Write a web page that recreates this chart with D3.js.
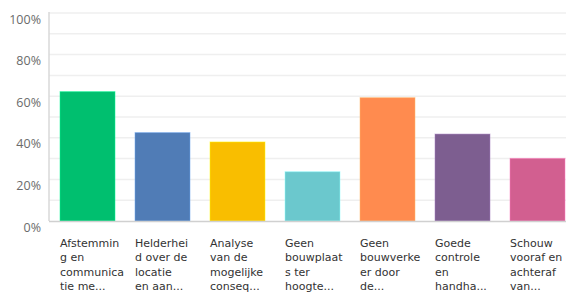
<!DOCTYPE html>
<html>
<head>
<meta charset="utf-8">
<script src="https://cdn.jsdelivr.net/npm/d3@7"></script>
<style>
  body { margin: 0; background: #fff; }
  svg { display: block; }
</style>
</head>
<body>
<svg></svg>
<script>
let categories = ["A", "B", "C", "D", "E", "F", "G"];
let labels = [
  ["Afstemmin", "g en", "communica", "tie me..."],
  ["Helderhei", "d over de", "locatie", "en aan..."],
  ["Analyse", "van de", "mogelijke", "conseq..."],
  ["Geen", "bouwplaat", "s ter", "hoogte..."],
  ["Geen", "bouwverke", "er door", "de..."],
  ["Goede", "controle", "en", "handha..."],
  ["Schouw", "vooraf en", "achteraf", "van..."]
];
let values = [62.2, 42.5, 38.0, 23.7, 59.3, 41.8, 30.1];
let colors = ["#00BF6F", "#507CB6", "#F9BE00", "#6BC8CD", "#FF8B4F", "#7D5E90", "#D25F90"];
let yTicks = [0, 20, 40, 60, 80, 100];

let w = 566;
let h = 293;
let padTop = 13;
let padBottom = 221;
let padLeft = 49;

let svg = d3.select('svg').attr('width', w).attr('height', h);

let xSc = d3.scaleBand()
            .domain(categories)
            .range([padLeft + 1, padLeft + 1 + 7 * 75])
            .paddingInner(20 / 75)
            .paddingOuter(10 / 75)
            .align(0.5);

let ySc = d3.scaleLinear()
            .domain([0, 100])
            .range([padBottom, padTop]);

// grid lines every 10%
svg.append('g')
   .selectAll('line')
   .data(d3.range(10, 101, 10))
   .enter()
   .append('line')
   .attr('x1', padLeft)
   .attr('x2', w)
   .attr('y1', d => ySc(d))
   .attr('y2', d => ySc(d))
   .attr('stroke', '#efefef')
   .attr('stroke-width', 1.5);

// y axis line
svg.append('line')
   .attr('x1', padLeft).attr('x2', padLeft)
   .attr('y1', padTop - 1).attr('y2', padBottom)
   .attr('stroke', '#d9d9d9')
   .attr('stroke-width', 1.5);

// bars
svg.selectAll('rect.bar')
   .data(values)
   .enter()
   .append('rect')
   .attr('class', 'bar')
   .attr('x', (d, i) => xSc(categories[i]))
   .attr('width', xSc.bandwidth())
   .attr('y', d => ySc(d))
   .attr('height', d => ySc(0) - ySc(d))
   .attr('fill', (d, i) => colors[i])
   .attr('stroke', (d, i) => d3.color(colors[i]).brighter(0.8))
   .attr('stroke-opacity', 0.5)
   .attr('stroke-width', 1);

// baseline
svg.append('line')
   .attr('x1', padLeft).attr('x2', w)
   .attr('y1', padBottom + 0.5).attr('y2', padBottom + 0.5)
   .attr('stroke', '#d0d0d0')
   .attr('stroke-width', 1.5);

// y tick labels, sit a little below their grid line
let yAxis = d3.axisLeft(ySc)
              .tickValues(yTicks)
              .tickSize(0)
              .tickPadding(8)
              .tickFormat(d => d + '%');
let gy = svg.append('g')
   .attr('transform', 'translate(' + padLeft + ', 6)')
   .call(yAxis);
gy.select('.domain').remove();
gy.selectAll('text')
  .attr('font-family', 'Open Sans, sans-serif')
  .attr('font-size', 12.5)
  .attr('fill', '#6b6b6b');

// category labels, already wrapped
let lab = svg.append('g')
   .selectAll('text')
   .data(labels)
   .enter()
   .append('text')
   .attr('x', (d, i) => xSc(categories[i]))
   .attr('y', 247)
   .attr('font-family', 'DejaVu Sans, sans-serif')
   .attr('font-size', 11)
   .attr('fill', '#333');
lab.selectAll('tspan')
   .data(d => d)
   .enter()
   .append('tspan')
   .attr('x', function () { return d3.select(this.parentNode).attr('x'); })
   .attr('dy', (d, i) => i === 0 ? 0 : 14.3)
   .text(d => d);
</script>
</body>
</html>
